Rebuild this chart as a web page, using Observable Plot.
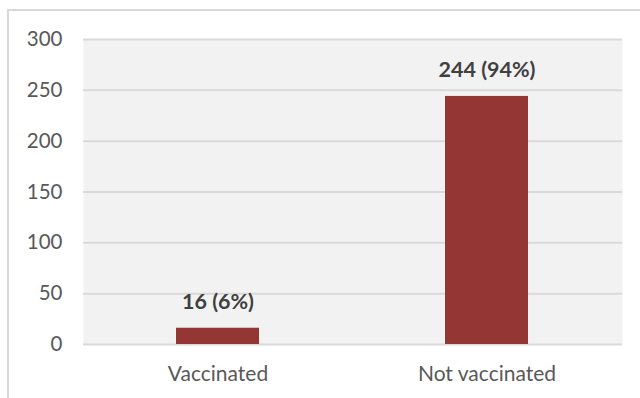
<!DOCTYPE html>
<html>
<head>
<meta charset="utf-8">
<script src="https://cdn.jsdelivr.net/npm/d3@7"></script>
<script src="https://cdn.jsdelivr.net/npm/@observablehq/plot@0.6"></script>
<style>
  html, body { margin: 0; padding: 0; background: #fff; }
  #wrap { position: relative; width: 640px; height: 398px; overflow: hidden; }
  #border { position: absolute; left: 7px; top: 9px; width: 700px; height: 500px;
            border-top: 2px solid #d9d9d9; border-left: 2px solid #d9d9d9; }
  #chart { position: absolute; left: 0; top: 0; }
</style>
</head>
<body>
<div id="wrap"><div id="border"></div><div id="chart"></div></div>
<script>
const categories = ["Vaccinated", "Not vaccinated"];
const counts = [16, 244];
const labels = ["16 (6%)", "244 (94%)"];
const yTicks = [0, 50, 100, 150, 200, 250, 300];

const data = categories.map((c, i) => ({category: c, count: counts[i], label: labels[i]}));

const chart = Plot.plot({
  width: 640,
  height: 398,
  marginLeft: 83,
  marginRight: 18,
  marginTop: 39,
  marginBottom: 54,
  style: {fontFamily: "Lato, sans-serif", fontSize: "21px", background: "transparent", overflow: "visible"},
  x: {domain: categories, paddingInner: 0.69, paddingOuter: 0.345, label: null},
  y: {domain: [0, 300], ticks: yTicks, label: null},
  marks: [
    Plot.frame({fill: "#f2f2f2", stroke: null}),
    Plot.gridY(yTicks, {stroke: "#d9d9d9", strokeOpacity: 1, strokeWidth: 2}),
    Plot.axisY(yTicks, {tickSize: 0, tickPadding: 21, fill: "#595959", fontSize: 20.5, label: null}),
    Plot.axisX({tickSize: 0, tickPadding: 22, fill: "#595959", fontSize: 21, label: null}),
    Plot.barY(data, {x: "category", y: "count", fill: "#943634"}),
    Plot.text(data, {x: "category", y: "count", text: "label", dy: -19, lineAnchor: "bottom",
      fontWeight: "bold", fontSize: 21.5, fill: "#404040"})
  ]
});
document.getElementById("chart").appendChild(chart);
</script>
</body>
</html>
